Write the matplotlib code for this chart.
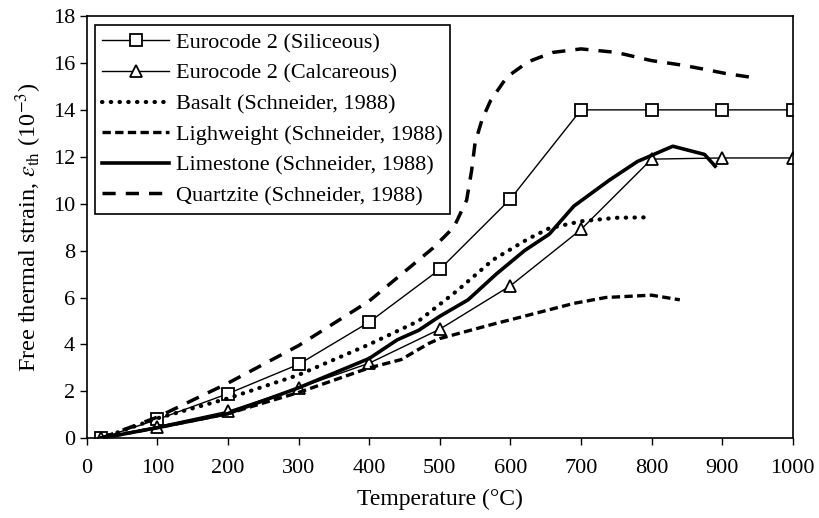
import numpy as np
import matplotlib
matplotlib.use("Agg")
import matplotlib.pyplot as plt

# === Data ===
T_ec = [20, 100, 200, 300, 400, 500, 600, 700, 800, 900, 1000]
eps_siliceous = [0.0, 0.8, 1.9, 3.15, 4.95, 7.2, 10.2, 14.0, 14.0, 14.0, 14.0]
eps_calcareous = [0.0, 0.5, 1.15, 2.15, 3.2, 4.65, 6.5, 8.9, 11.9, 11.95, 11.95]

T_basalt = [20, 100, 200, 300, 400, 470, 525, 575, 625, 655, 700, 750, 800]
eps_basalt = [0.0, 0.85, 1.7, 2.7, 4.0, 5.0, 6.3, 7.6, 8.5, 8.95, 9.25, 9.4, 9.42]

T_light = [20, 100, 200, 300, 400, 445, 485, 500, 580, 600, 690, 735, 800, 840]
eps_light = [0.0, 0.45, 1.05, 1.95, 3.0, 3.35, 4.05, 4.25, 4.9, 5.05, 5.75, 6.0, 6.1, 5.9]

T_lime = [20, 100, 200, 300, 400, 440, 470, 500, 540, 580, 620, 655, 690, 740, 780, 830, 875, 890]
eps_lime = [0.0, 0.45, 1.05, 2.15, 3.4, 4.2, 4.6, 5.2, 5.9, 7.0, 8.0, 8.7, 9.9, 11.0, 11.8, 12.45, 12.1, 11.6]

T_quartz = [20, 100, 200, 300, 400, 490, 520, 538, 545, 550, 560, 572, 595, 625, 660, 700, 750, 800, 845, 880, 905, 950]
eps_quartz = [0.0, 0.9, 2.35, 3.95, 5.85, 8.1, 9.0, 10.15, 11.4, 12.6, 13.6, 14.4, 15.4, 16.05, 16.45, 16.6, 16.45, 16.1, 15.9, 15.7, 15.55, 15.35]

labels = ["Eurocode 2 (Siliceous)", "Eurocode 2 (Calcareous)", "Basalt (Schneider, 1988)",
          "Lighweight (Schneider, 1988)", "Limestone (Schneider, 1988)", "Quartzite (Schneider, 1988)"]

plt.rcParams["font.family"] = ["Liberation Serif", "DejaVu Serif"]
plt.rcParams["mathtext.fontset"] = "stix"
plt.rcParams["font.size"] = 16

fig = plt.figure(figsize=(8.19, 5.18), dpi=100)
ax = fig.add_axes([0.106, 0.154, 0.862, 0.815])

ax.plot(T_ec, eps_siliceous, color="black", lw=1.0, marker="s", ms=9,
        mfc="white", mec="black", mew=1.3, label=labels[0])
ax.plot(T_ec, eps_calcareous, color="black", lw=1.0, marker="^", ms=9,
        mfc="white", mec="black", mew=1.3, label=labels[1])
ax.plot(T_basalt, eps_basalt, color="black", lw=3.0, linestyle=(0, (0.1, 2.0)),
        dash_capstyle="round", label=labels[2])
ax.plot(T_light, eps_light, color="black", lw=2.4, linestyle=(0, (2.5, 1.3)),
        label=labels[3])
ax.plot(T_lime, eps_lime, color="black", lw=2.6, label=labels[4])
ax.plot(T_quartz, eps_quartz, color="black", lw=2.5, linestyle=(0, (3.8, 2.9)),
        label=labels[5])

ax.set_xlim(0, 1000)
ax.set_ylim(0, 18)
ax.set_xticks(np.arange(0, 1001, 100))
ax.set_yticks(np.arange(0, 19, 2))
ax.tick_params(direction="out", length=5, width=1, labelsize=16)
ax.tick_params(axis="x", pad=10)
for s in ax.spines.values():
    s.set_linewidth(1.2)

ax.set_xlabel("Temperature (°C)", fontsize=17, labelpad=8)
ax.set_ylabel(r"Free thermal strain, $\varepsilon_{\rm th}$ (10$^{-3}$)", fontsize=17.5, labelpad=6)

leg = ax.legend(loc="upper left", bbox_to_anchor=(0.011, 0.979), borderaxespad=0,
                frameon=True, fancybox=False, edgecolor="black", framealpha=1, fontsize=16,
                handlelength=3.0, borderpad=0.35, labelspacing=0.45, handletextpad=0.3)
leg.get_frame().set_linewidth(1.2)

fig.savefig("out.png", dpi=100)
